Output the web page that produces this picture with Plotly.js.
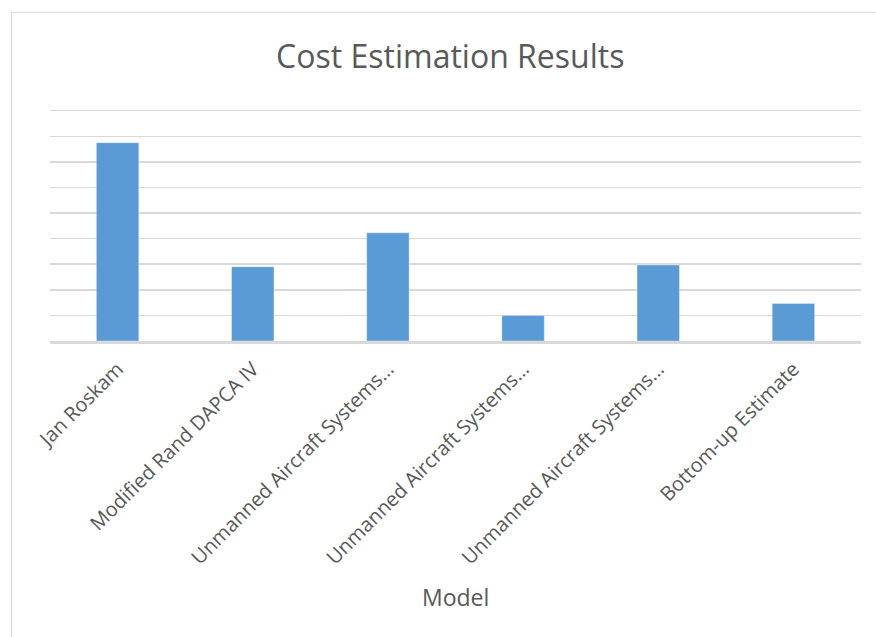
<!DOCTYPE html>
<html>
<head>
<meta charset="utf-8">
<script src="https://cdn.plot.ly/plotly-3.0.1.min.js"></script>
<style>
  html, body { margin: 0; padding: 0; background: #ffffff; overflow: hidden; }
  #frame { position: absolute; left: 11px; top: 12px; width: 900px; height: 700px;
           border: 1px solid #d9d9d9; box-sizing: border-box; }
  #chart { position: absolute; left: 0; top: 0; width: 876px; height: 637px; }
</style>
</head>
<body>
<div id="frame"></div>
<div id="chart"></div>
<script>
// Cost estimation models compared
const models = [
  "Jan Roskam",
  "Modified Rand DAPCA IV",
  "Unmanned Aircraft Systems…",
  "Unmanned Aircraft Systems…",
  "Unmanned Aircraft Systems…",
  "Bottom-up Estimate"
];
// Estimated cost per model (gridline units)
const costs = [7.75, 2.9, 4.23, 1.0, 2.97, 1.47];

// Gridline values 0..9
const gridValues = [0, 1, 2, 3, 4, 5, 6, 7, 8, 9];

const positions = models.map((_, i) => i);

const trace = {
  type: "bar",
  x: positions,
  y: costs,
  marker: { color: "#5b9bd5", line: { color: "rgba(255,255,255,0.35)", width: 1 } },
  hoverinfo: "skip"
};

const layout = {
  width: 876,
  height: 637,
  margin: { l: 50, r: 15, t: 103, b: 296 },
  paper_bgcolor: "rgba(0,0,0,0)",
  plot_bgcolor: "rgba(0,0,0,0)",
  bargap: 0.686,
  showlegend: false,
  font: { family: "Open Sans, sans-serif", color: "#595959" },
  title: {
    text: "Cost Estimation Results",
    font: { family: "Open Sans, sans-serif", size: 32, color: "#595959" },
    x: 0.514, xref: "container", xanchor: "center",
    y: 1 - 57 / 637, yref: "container", yanchor: "middle"
  },
  xaxis: {
    range: [-0.5, 5.5],
    tickmode: "array",
    tickvals: positions,
    ticktext: models,
    tickangle: -45,
    ticks: "",
    ticklabelstandoff: 6,
    tickfont: { family: "Open Sans, sans-serif", size: 20, color: "#595959" },
    showgrid: false,
    showline: true,
    linecolor: "#d9d9d9",
    linewidth: 2.5,
    zeroline: false,
    automargin: false,
    fixedrange: true
  },
  yaxis: {
    range: [0, 9.3],
    tickmode: "array",
    tickvals: gridValues,
    showticklabels: false,
    ticks: "",
    showgrid: true,
    gridcolor: "#d9d9d9",
    gridwidth: 1.5,
    zeroline: false,
    showline: false,
    automargin: false,
    fixedrange: true
  },
  annotations: [{
    text: "Model",
    xref: "paper", yref: "paper",
    x: 0.5, y: (341 - 597) / 238,
    xanchor: "center", yanchor: "middle",
    showarrow: false,
    font: { family: "Open Sans, sans-serif", size: 23, color: "#595959" }
  }]
};

Plotly.newPlot("chart", [trace], layout, { staticPlot: true, displayModeBar: false });
</script>
</body>
</html>
